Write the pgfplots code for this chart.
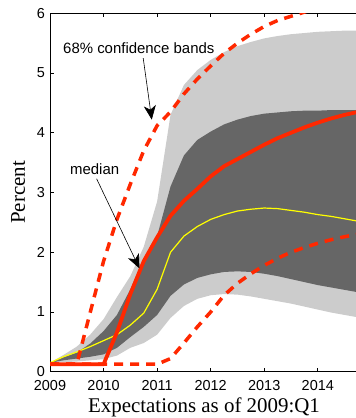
\documentclass[border=0pt]{standalone}
\usepackage{fontspec}
\setmainfont{Liberation Serif}
\setsansfont{Liberation Sans}
\usepackage{pgfplots}
\usepackage{pgfplotstable}
\pgfplotsset{compat=1.18}
\usepgfplotslibrary{fillbetween}
\usetikzlibrary{arrows.meta}

\definecolor{bandlight}{RGB}{204,204,204}
\definecolor{banddark}{RGB}{102,102,102}
\definecolor{fedred}{RGB}{255,40,0}
\definecolor{medyellow}{RGB}{255,255,0}

% lu/ll: outer band, du/dl: inner band, yl: model median,
% md: survey median, hi/lo: survey 68% bands
\pgfplotstableread{
t       lu    du    dl    ll    yl    md    hi    lo
2009.00 0.15  0.15  0.15  0.15  0.15  0.125 0.125 0.125
2009.25 0.28  0.24  0.19  0.16  0.25  0.125 0.125 0.125
2009.50 0.42  0.32  0.22  0.17  0.33  0.125 0.125 0.125
2009.75 0.62  0.47  0.25  0.19  0.42  0.125 0.99  0.125
2010.00 0.88  0.68  0.29  0.21  0.52  0.125 1.85  0.125
2010.25 1.25  0.95  0.40  0.27  0.62  0.66  2.55  0.125
2010.50 1.60  1.38  0.58  0.40  0.78  1.30  3.14  0.125
2010.75 2.09  1.88  0.75  0.48  0.98  1.85  3.70  0.125
2011.00 2.85  2.27  0.95  0.62  1.38  2.25  4.12  0.125
2011.25 4.30  3.10  1.27  0.90  2.00  2.61  4.35  0.22
2011.50 4.80  3.62  1.46  1.10  2.27  2.86  4.65  0.48
2011.75 5.05  3.88  1.57  1.22  2.43  3.06  4.90  0.75
2012.00 5.22  4.02  1.63  1.28  2.55  3.27  5.12  1.00
2012.25 5.35  4.14  1.67  1.30  2.63  3.44  5.33  1.28
2012.50 5.45  4.22  1.68  1.29  2.69  3.56  5.50  1.48
2012.75 5.52  4.28  1.67  1.26  2.72  3.68  5.65  1.64
2013.00 5.58  4.32  1.64  1.22  2.74  3.80  5.78  1.78
2013.25 5.62  4.34  1.60  1.18  2.73  3.91  5.88  1.90
2013.50 5.65  4.36  1.55  1.14  2.70  4.00  5.95  2.00
2013.75 5.67  4.37  1.50  1.09  2.67  4.09  6.02  2.08
2014.00 5.69  4.37  1.45  1.04  2.63  4.17  6.10  2.15
2014.25 5.70  4.38  1.41  0.99  2.60  4.24  6.17  2.21
2014.50 5.71  4.38  1.37  0.95  2.56  4.30  6.22  2.26
2014.75 5.71  4.38  1.33  0.91  2.52  4.35  6.27  2.30
}\paths

\begin{document}
\begin{tikzpicture}
\begin{axis}[
  scale only axis,
  width=308bp, height=358.4bp,
  xmin=2009, xmax=2014.75, ymin=0, ymax=6,
  xtick={2009,...,2014}, ytick={0,...,6},
  tick align=inside,
  major tick length=4bp,
  axis line style={line width=0.9bp},
  tick style={line width=0.7bp, black},
  /pgf/number format/assume math mode=true,
  /pgf/number format/1000 sep={},
  tick label style={font=\sffamily\fontsize{14.5}{14.5}\selectfont, inner sep=0pt},
  xticklabel style={anchor=north, yshift=-9bp},
  yticklabel style={anchor=east, xshift=-5bp},
  xlabel={Expectations as of 2009:Q1},
  ylabel={Percent},
  label style={font=\fontsize{21}{21}\selectfont, inner sep=0pt},
  xlabel style={at={(axis description cs:0.5,-0.1152)}, anchor=base},
  ylabel style={at={(axis description cs:-0.0812,0.5)}, anchor=base},
]
\coordinate (sw) at (rel axis cs:0,0);

\addplot[draw=none, name path=lu] table[x=t, y=lu]{\paths};
\addplot[draw=none, name path=ll] table[x=t, y=ll]{\paths};
\addplot[draw=none, name path=du] table[x=t, y=du]{\paths};
\addplot[draw=none, name path=dl] table[x=t, y=dl]{\paths};
\addplot[fill=bandlight, draw=none] fill between[of=lu and ll];
\addplot[fill=banddark, draw=none] fill between[of=du and dl];

\addplot[medyellow, line width=1.2bp] table[x=t, y=yl]{\paths};

\addplot[fedred, line width=3.5bp, dash pattern=on 9bp off 7bp] table[x=t, y=hi]{\paths};
\addplot[fedred, line width=3.5bp, dash pattern=on 9bp off 7bp] table[x=t, y=lo]{\paths};
\addplot[fedred, line width=3.8bp, line join=round] table[x=t, y=md]{\paths};

\node[anchor=base west, inner sep=0pt, font=\sffamily\fontsize{15}{15}\selectfont]
  at (axis cs:2009.243,5.32) {68\% confidence bands};
\draw[line width=0.6bp, -{Stealth[length=14bp, width=12bp, inset=4bp]}]
  (axis cs:2010.74,5.25) -- (axis cs:2010.90,4.22);

\node[anchor=base west, inner sep=0pt, font=\sffamily\fontsize{15}{15}\selectfont]
  at (axis cs:2009.373,3.295) {median};
\draw[line width=0.6bp, -{Stealth[length=14bp, width=12bp, inset=4bp]}]
  (axis cs:2009.87,3.23) -- (axis cs:2010.67,1.73);
\end{axis}
\pgfresetboundingbox
\path (sw) ++(-50bp,-46.3bp) rectangle ++(356bp,418bp);
\end{tikzpicture}
\end{document}
